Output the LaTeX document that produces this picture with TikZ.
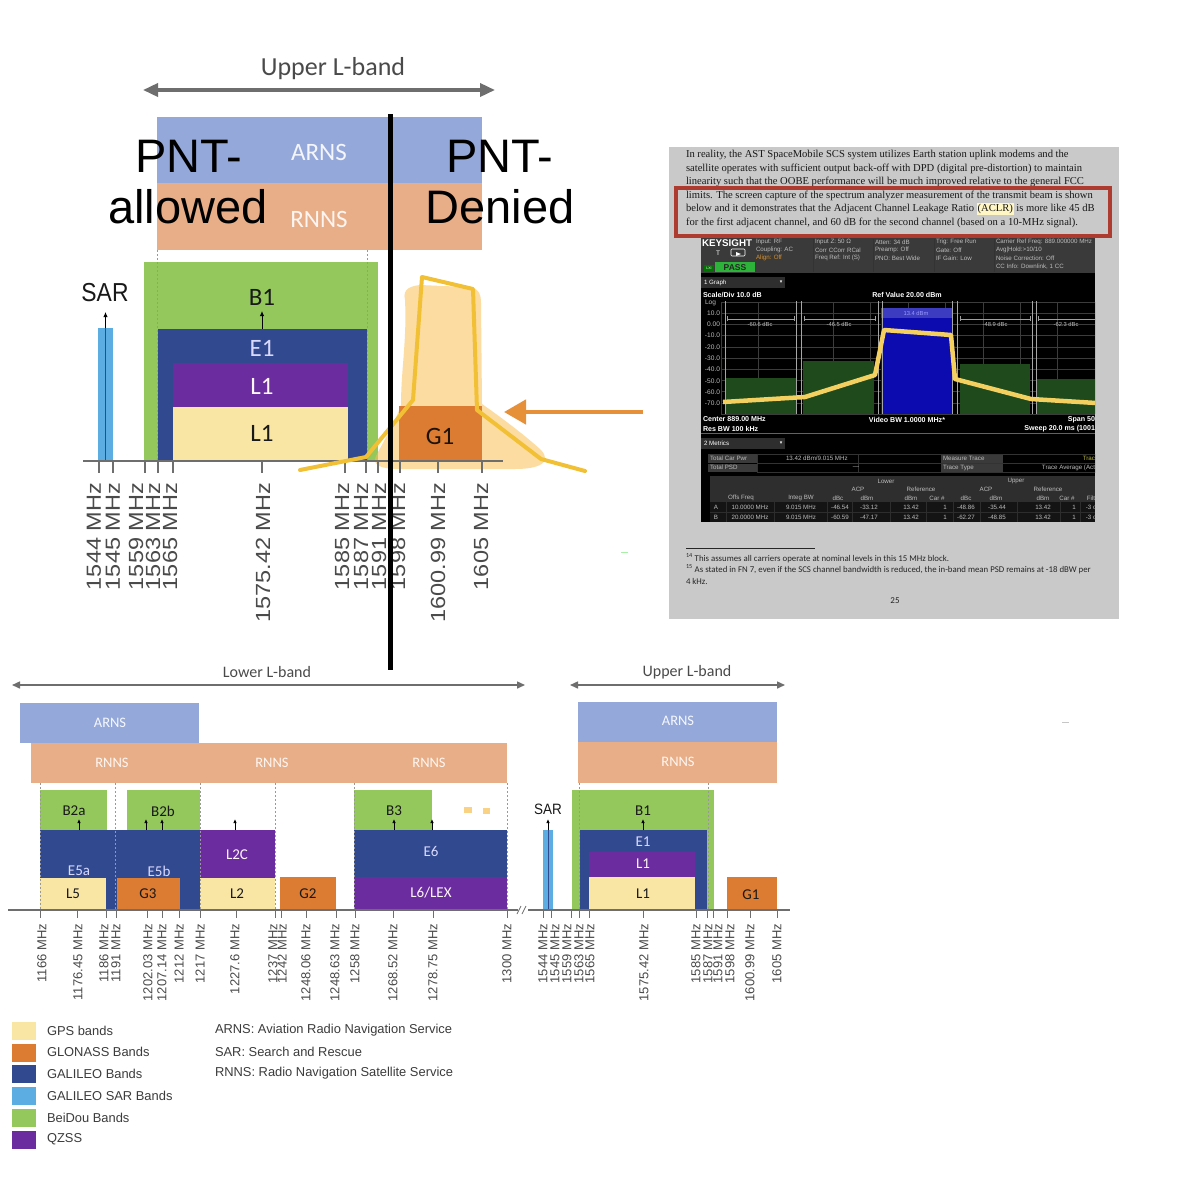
\documentclass[tikz,border=0pt]{standalone}
\usepackage{fontspec}
\setmainfont{Liberation Sans}
\newfontfamily\calfont{Carlito}
\newfontfamily\serfont{Liberation Serif}
\newfontfamily\djvfont{DejaVu Sans}
\usetikzlibrary{arrows.meta}
\definecolor{arnsC}{HTML}{94A8DA}
\definecolor{rnnsC}{HTML}{E8AE88}
\definecolor{bdC}{HTML}{94C75C}
\definecolor{galC}{HTML}{31498E}
\definecolor{qzC}{HTML}{6A2C9F}
\definecolor{gpsC}{HTML}{F9E6A4}
\definecolor{gloC}{HTML}{DC7B32}
\definecolor{sarC}{HTML}{5CAEE2}
\definecolor{axC}{HTML}{6E6E6E}
\definecolor{txC}{HTML}{4A4A4A}
\definecolor{glowC}{HTML}{FBC055}
\definecolor{traceC}{HTML}{F2C035}
\definecolor{arrC}{HTML}{E6913A}
\definecolor{pageC}{HTML}{C9C9C9}
\definecolor{redC}{HTML}{AE3B2F}
\definecolor{hlC}{HTML}{FFF6C4}
\definecolor{hdrC}{HTML}{3A3A3A}
\definecolor{ddC}{HTML}{2E2E2E}
\definecolor{scrT}{HTML}{BDBDBD}
\definecolor{grnBar}{HTML}{1E4A1C}
\definecolor{bluBar}{HTML}{0B0BB0}
\definecolor{ksTrace}{HTML}{F3D060}
\definecolor{passC}{HTML}{2DB33A}
\definecolor{alignC}{HTML}{D9902A}
\definecolor{olvC}{HTML}{B8B840}
\definecolor{gridC}{HTML}{3C3C3C}
\definecolor{legT}{HTML}{3C3C3C}
\newcommand{\fsz}[1]{\fontsize{#1}{#1}\selectfont}
\newcommand{\hlbox}[1]{{\setlength{\fboxsep}{0.8pt}\colorbox{hlC}{#1}}}
\begin{document}
\begin{tikzpicture}[x=1pt,y=-1pt,
  every node/.style={inner sep=0pt, outer sep=0pt},
  bandT/.style={font=\calfont\fsz{25}, text=black!90},
  bandB/.style={font=\calfont\fsz{15}, text=black!90},
  lightT/.style={text=white!85!blue},
  svcT/.style={font=\calfont\fsz{25}, text=white!90!arnsC},
  svcB/.style={font=\calfont\fsz{14.5}, text=white!92!arnsC},
  tickT/.style={draw=axC, line width=2pt},
  tickB/.style={draw=axC, line width=1pt},
  labT/.style={font=\fsz{23.5}, text=txC, rotate=90, anchor=east},
  labB/.style={font=\fsz{13}, text=txC, rotate=90, anchor=east},
  dashln/.style={draw=gray!80, line width=0.8pt, dash pattern=on 2pt off 2pt},
  uparrow/.style={-{Latex[length=5pt,width=4.5pt]}, line width=0.9pt, draw=black},
  bigtxt/.style={font=\fsz{47}, text=black, anchor=base},
  para/.style={font=\serfont\fsz{10.6}, text=black!90, anchor=west},
  hdr/.style={font=\fsz{6.2}, text=scrT, anchor=west},
  scr/.style={font=\fsz{6.2}, text=scrT},
  scrb/.style={font=\bfseries\fsz{7.1}, text=white},
  legend/.style={font=\fsz{12.9}, text=legT, anchor=west},
  foot/.style={font=\calfont\fsz{8.8}, text=black!85, anchor=west}
]
\useasboundingbox (0,0) rectangle (1200,1200);
\fill[white] (0,0) rectangle (1200,1200);

%% ================= TOP UPPER L-BAND (enlarged) =================
\node[font=\calfont\fsz{26}, text=txC] (tUpper) at (333,69) {Upper L-band};
\coordinate (tuL) at (143,90);
\coordinate (tuR) at (495,90);
\draw[{Triangle[length=15pt,width=13pt]}-{Triangle[length=15pt,width=13pt]}, line width=3.5pt, draw=axC] (tuL) -- (tuR);

\fill[arnsC] (157,117) rectangle (482,183);
\fill[rnnsC] (157,183) rectangle (482,250);
\node[svcT] (tARNS) at (319,152) {ARNS};
\node[svcT, text=white!88!rnnsC] (tRNNS) at (319,219) {RNNS};

\fill[bdC] (144,262) rectangle (378,461);
\fill[galC] (158,329) rectangle (367,461);
\fill[qzC] (173,363) rectangle (348,407);
\fill[gpsC] (173,407) rectangle (348,461);
\fill[sarC] (98,328) rectangle (113,461);
\draw[line width=1.6pt, draw=galC] (105.5,328) -- (105.5,461);

\node[bandT] (tB1) at (262,297) {B1};
\node[bandT, lightT] (tE1) at (262,348) {E1};
\node[bandT, text=white!85!pink] (tL1q) at (262,386) {L1};
\node[bandT] (tL1g) at (262,433) {L1};
\node[font=\fsz{26}, text=black!90] (tSAR) at (105,293) {\scalebox{0.88}[1]{SAR}};
\draw[uparrow] (262,329) -- (262,311);
\draw[uparrow] (105.5,328) -- (105.5,312);

\draw[dashln] (157.5,250) -- (157.5,461);
\draw[dashln] (367.5,250) -- (367.5,461);

% glow highlight
\fill[glowC, opacity=0.55]
  (405,300) .. controls (402,288) and (412,286) .. (420,285)
  -- (466,287) .. controls (478,287) and (481,293) .. (481,303)
  -- (482,404) .. controls (505,420) and (528,438) .. (541,450)
  .. controls (552,462) and (540,469) .. (515,469)
  -- (400,469) .. controls (380,469) and (372,465) .. (376,456)
  .. controls (382,444) and (394,425) .. (401,405)
  .. controls (401,370) and (407,340) .. cycle;
\fill[gloC] (399,406) rectangle (482,461);
\node[bandT, text=black!85!brown] (tG1) at (440,436) {G1};

% axis and ticks
\draw[draw=axC, line width=2.5pt] (83,461) -- (503,461);
\foreach \t in {99,113,145,158,173,262,345,366,378,400,438,482}
  \draw[tickT] (\t,461) -- (\t,473);
\foreach \x/\l [count=\i] in {94/1544,113/1545,136/1559,153/1563,170/1565,263/1575.42,342/1585,361/1587,379/1591,398/1598,438/1600.99,481/1605}
  \node[labT] (lt\i) at (\x,483) {\scalebox{1}[0.87]{\l\ MHz}};

% trace
\draw[traceC, line width=4pt, line join=round, line cap=round]
  (300,470) -- (366,457) -- (413,400) -- (422,277) -- (473,289) -- (477,410) -- (541,459) -- (585,471);

% orange arrow
\coordinate (oaS) at (643,412);
\coordinate (oaE) at (504,412);
\draw[arrC, line width=4.5pt, -{Triangle[length=22pt,width=24pt]}] (oaS) -- (oaE);

% PNT texts
\node[bigtxt] (pnt1) at (189,172) {PNT-};
\node[bigtxt] (pnt2) at (188,223) {allowed};
\node[bigtxt] (pnt3) at (500,172) {PNT-};
\node[bigtxt] (pnt4) at (500,223) {Denied};

% black divider
\draw[black, line width=5pt] (390.5,114) -- (390.5,670);

% tiny marks
\draw[gray!30!green!40, line width=1pt] (621,552) -- (628,552);
\draw[gray!45, line width=1pt] (1062,722) -- (1069,722);

%% ================= SCREENSHOT =================
\fill[pageC] (669,147) rectangle (1119,619);
\node[para] (p1) at (686,155) {In reality, the AST SpaceMobile SCS system utilizes Earth station uplink modems and the};
\node[para] (p2) at (686,168.5) {satellite operates with sufficient output back-off with DPD (digital pre-distortion) to maintain};
\node[para] (p3) at (686,182) {linearity such that the OOBE performance will be much improved relative to the general FCC};
\node[para] (p4) at (686,195.5) {limits. The screen capture of the spectrum analyzer measurement of the transmit beam is shown};
\node[para] (p5) at (686,209) {below and it demonstrates that the Adjacent Channel Leakage Ratio \hlbox{(ACLR)} is more like 45 dB};
\node[para] (p6) at (686,222.5) {for the first adjacent channel, and 60 dB for the second channel (based on a 10-MHz signal).};
\draw[redC, line width=3.5pt] (676,188) rectangle (1110,236);

\begin{scope}
\clip (701,238) rectangle (1095,522);
\fill[black] (701,238) rectangle (1095,522);
\fill[hdrC] (701,238) rectangle (1095,273);
\foreach \sx in {813,873,934,994} \draw[gray!40!black, line width=0.5pt] (\sx,239) -- (\sx,272);
\node[font=\bfseries\fsz{9.8}, text=white, anchor=west] (ksName) at (702,243.5) {KEYSIGHT};
\node[font=\fsz{6.5}, text=white] (ksT) at (718,253) {T};
\draw[white, line width=0.6pt, rounded corners=1pt] (731,249) rectangle (745,256);
\fill[white] (736,252) -- (741,254) -- (736,256) -- cycle;
\fill[green!45!black] (704,265) rectangle (714,272);
\node[font=\fsz{3.5}, text=white] (ksLxi) at (709,268.5) {LXI};
\fill[passC] (715,262) rectangle (755,272);
\node[font=\bfseries\fsz{8.5}, text=black!85] (ksPass) at (735,267.3) {PASS};
\foreach \cx/\ta/\tb/\tc [count=\i] in {
  756/{Input: RF}/{Coupling: AC}/{\textcolor{alignC}{Align: Off}},
  815/{Input Z: 50 Ω}/{Corr CCorr RCal}/{Freq Ref: Int (S)},
  875/{Atten: 34 dB}/{Preamp: Off}/{PNO: Best Wide},
  936/{Trig: Free Run}/{Gate: Off}/{IF Gain: Low},
  996/{Carrier Ref Freq: 889.000000 MHz}/{Avg|Hold:>10/10}/{Noise Correction: Off}}
{
  \node[hdr] (ha\i) at (\cx,242) {\ta};
  \node[hdr] (hb\i) at (\cx,250) {\tb};
  \node[hdr] (hc\i) at (\cx,258) {\tc};
}
\node[hdr] (hd5) at (996,266.5) {CC Info: Downlink, 1 CC};

% graph header
\fill[ddC] (701,277) rectangle (785,288);
\node[scr, anchor=west, text=white!85] (g1) at (704,282.5) {1 Graph};
\node[font=\djvfont\fsz{5}, text=white] (g1a) at (781,282.5) {▾};
\node[scrb, anchor=west] (sdiv) at (703,295) {Scale/Div 10.0 dB};
\node[scrb] (refv) at (907,295) {Ref Value 20.00 dBm};
\node[scr, anchor=west, font=\fsz{6.6}] (ylog) at (705,303) {Log};
\foreach \yy/\v [count=\i] in {313/10.0,324.5/0.00,335.5/-10.0,347/-20.0,358/-30.0,369.5/-40.0,381/-50.0,392/-60.0,403/-70.0}
  \node[scr, anchor=east, font=\fsz{6.6}] (yl\i) at (720,\yy) {\v};
% grid
\foreach \k in {0,...,10} {
  \draw[gridC, line width=0.5pt] (721+37.4*\k,302) -- (721+37.4*\k,414);
  \draw[gridC, line width=0.5pt] (721,302+11.2*\k) -- (1095,302+11.2*\k);
}
% bars
\fill[grnBar] (725,378) rectangle (796,414);
\fill[grnBar] (803,361) rectangle (874,414);
\fill[grnBar] (960,364) rectangle (1030,414);
\fill[grnBar] (1036,379) rectangle (1095,414);
\fill[bluBar] (881,308) rectangle (952,414);
\fill[bluBar!80!white] (881,308) rectangle (952,318);
\foreach \vx in {725,796,801,878,882,952,957,1032,1036}
  \draw[gray!70, line width=0.6pt] (\vx,301) -- (\vx,414);
% bracket lines
\foreach \xa/\xb in {727/794,804/875,960/1030,1038/1095}
  \draw[gray!75, line width=0.5pt] (\xa,316) -- (\xa,321) (\xa,319) -- (\xb,319) (\xb,316) -- (\xb,321);
\node[scr, font=\fsz{5.8}] (b1) at (760,324.5) {-60.6 dBc};
\node[scr, font=\fsz{5.8}] (b2) at (839,324.5) {-46.5 dBc};
\node[scr, font=\fsz{5.8}, text=blue!40!white] (b3) at (916,313.5) {13.4 dBm};
\node[scr, font=\fsz{5.8}] (b4) at (995,324.5) {-48.9 dBc};
\node[scr, font=\fsz{5.8}] (b5) at (1066,324.5) {-62.3 dBc};
\draw[ksTrace, line width=4.5pt, line join=round]
  (723,402) -- (805,397) -- (875,375) -- (884,330) -- (951,335) -- (955,379) -- (1031,399) -- (1096,403);
% footer
\node[scrb, anchor=west] (f1) at (703,419.5) {Center 889.00 MHz};
\node[scrb] (f2) at (907,419.5) {Video BW 1.0000 MHz*};
\node[scrb, anchor=east] (f3) at (1095,419.5) {Span 50};
\node[scrb, anchor=west] (f4) at (703,428.5) {Res BW 100 kHz};
\node[scrb, anchor=east] (f5) at (1095,428.5) {Sweep 20.0 ms (1001};
\draw[blue!30!gray, line width=0.7pt] (701,433) -- (1095,433);
% metrics
\fill[ddC] (701,438) rectangle (785,449);
\node[scr, anchor=west, text=white!85] (m1) at (704,443.5) {2 Metrics};
\node[font=\djvfont\fsz{5}, text=white] (m1a) at (781,443.5) {▾};
\fill[hdrC] (708,454) rectangle (757,462.5);
\fill[hdrC] (708,463.5) rectangle (757,472);
\fill[hdrC] (941,454) rectangle (1003,462.5);
\fill[hdrC] (941,463.5) rectangle (1003,472);
\draw[gray!40!black, line width=0.5pt] (757,454) rectangle (1095,472) (757,463) -- (1095,463) (858,454) -- (858,472);
\node[scr, anchor=west] (m2) at (710,458.3) {Total Car Pwr};
\node[scr, anchor=west] (m3) at (710,467.7) {Total PSD};
\node[scr, anchor=west] (m4) at (786,458.3) {13.42 dBm/9.015 MHz};
\node[scr] (m5) at (856,467.7) {---};
\node[scr, anchor=west] (m6) at (943,458.3) {Measure Trace};
\node[scr, anchor=west] (m7) at (943,467.7) {Trace Type};
\node[scr, anchor=east, text=olvC] (m8) at (1095,458.3) {Trac};
\node[scr, anchor=east] (m9) at (1095,467.7) {Trace Average (Act};
% table
\fill[hdrC!80!black] (710,476) rectangle (1095,502);
\fill[black!92] (710,502) rectangle (1095,522);
\foreach \cx in {726,774,827,852,890,926,953,980,1017,1060,1080}
  \draw[gray!35!black, line width=0.5pt] (\cx,502) -- (\cx,522);
\draw[gray!35!black, line width=0.5pt] (710,512) -- (1095,512);
\node[scr] (th1) at (886,481) {Lower};
\node[scr] (th2) at (1016,481) {Upper};
\foreach \cx/\tt [count=\i] in {858/ACP,921/Reference,986/ACP,1048/Reference}
  \node[scr] (tr\i) at (\cx,489.5) {\tt};
\foreach \cx/\tt [count=\i] in {741/Offs Freq,801/Integ BW,838/dBc,867/dBm,911/dBm,937/Car \#,966/dBc,996/dBm,1043/dBm,1067/Car \#,1091/Filt}
  \node[scr] (tc\i) at (\cx,498) {\tt};
\foreach \cx/\ta/\tb [count=\i] in {716/A/B,750/10.0000 MHz/20.0000 MHz,801/9.015 MHz/9.015 MHz,840/-46.54/-60.59,869/-33.12/-47.17,911/13.42/13.42,945/1/1,966/-48.86/-62.27,997/-35.44/-48.85,1043/13.42/13.42,1074/1/1,1091/-3 c/-3 c}
{
  \node[scr] (ra\i) at (\cx,507.3) {\ta};
  \node[scr] (rb\i) at (\cx,517.3) {\tb};
}
\end{scope}

% footnotes
\draw[black!85, line width=0.6pt] (686,548) -- (815,548);
\node[foot] (fn1) at (686,558) {\textsuperscript{14} This assumes all carriers operate at nominal levels in this 15 MHz block.};
\node[foot] (fn2) at (686,569) {\textsuperscript{15} As stated in FN 7, even if the SCS channel bandwidth is reduced, the in-band mean PSD remains at -18 dBW per};
\node[foot] (fn3) at (686,581) {4 kHz.};
\node[font=\calfont\fsz{9}, text=black!85] (pg) at (895,601) {25};

%% ================= BOTTOM CHART =================
\node[font=\calfont\fsz{16}, text=txC] (tLower) at (267,672) {Lower L-band};
\coordinate (blL) at (12,685);
\coordinate (blR) at (525,685);
\draw[{Triangle[length=8pt,width=7pt]}-{Triangle[length=8pt,width=7pt]}, line width=1.5pt, draw=axC] (blL) -- (blR);
\node[font=\calfont\fsz{16}, text=txC] (tUpper2) at (687,672) {Upper L-band};
\coordinate (buL) at (570,685);
\coordinate (buR) at (785,685);
\draw[{Triangle[length=8pt,width=7pt]}-{Triangle[length=8pt,width=7pt]}, line width=1.5pt, draw=axC] (buL) -- (buR);

% service bands
\fill[arnsC] (20,703) rectangle (199,743);
\fill[rnnsC] (31,743) rectangle (507,783);
\fill[arnsC] (578,702) rectangle (777,742);
\fill[rnnsC] (578,742) rectangle (777,783);
\node[svcB] (bARNS1) at (110,723) {ARNS};
\node[svcB, text=white!90!rnnsC] (bRNNS1) at (112,763) {RNNS};
\node[svcB, text=white!90!rnnsC] (bRNNS2) at (272,763) {RNNS};
\node[svcB, text=white!90!rnnsC] (bRNNS3) at (429,763) {RNNS};
\node[svcB] (bARNS2) at (678,721) {ARNS};
\node[svcB, text=white!90!rnnsC] (bRNNS4) at (678,762) {RNNS};

% lower bands
\fill[bdC] (40,790) rectangle (107,830);
\fill[bdC] (127,790) rectangle (200,830);
\fill[galC] (40,830) rectangle (200,910);
\fill[gpsC] (40,878) rectangle (106,910);
\fill[gloC] (117,878) rectangle (180,910);
\fill[qzC] (200,830) rectangle (275,878);
\fill[gpsC] (200,878) rectangle (275,910);
\fill[gloC] (280,877) rectangle (336,910);
\fill[bdC] (354,790) rectangle (432,830);
\fill[galC] (354,830) rectangle (507,877);
\fill[qzC] (354,877) rectangle (507,910);
\fill[gpsC!80!orange] (464,807) rectangle (472,813);
\fill[gpsC!80!orange] (483,808) rectangle (490,814);

% upper bands
\fill[bdC] (572,790) rectangle (714,910);
\fill[galC] (580,830) rectangle (707,910);
\fill[qzC] (589,852) rectangle (695,877);
\fill[gpsC] (589,877) rectangle (695,910);
\fill[gloC] (727,877) rectangle (777,910);
\fill[sarC] (543,830) rectangle (553,910);
\draw[line width=1pt, draw=galC] (548,830) -- (548,910);

% band labels
\node[bandB] (nB2a) at (74,811) {B2a};
\node[bandB] (nB2b) at (163,811) {B2b};
\node[bandB, lightT] (nE5a) at (79,871) {E5a};
\node[bandB, lightT] (nE5b) at (159,871) {E5b};
\node[bandB] (nL5) at (73,894) {L5};
\node[bandB] (nG3) at (148,894) {G3};
\node[bandB, text=white!88!pink] (nL2C) at (237,855) {L2C};
\node[bandB] (nL2) at (237,894) {L2};
\node[bandB] (nG2) at (308,894) {G2};
\node[bandB] (nB3) at (394,811) {B3};
\node[bandB, lightT] (nE6) at (431,851) {E6};
\node[bandB, text=white!88!pink] (nL6) at (431,893) {L6/LEX};
\node[bandB] (nB1) at (643,811) {B1};
\node[bandB, lightT] (nE1) at (643,842) {E1};
\node[bandB, text=white!88!pink] (nL1q) at (643,864) {L1};
\node[bandB] (nL1g) at (643,894) {L1};
\node[bandB] (nG1) at (751,895) {G1};
\node[font=\fsz{15}, text=black!90] (nSAR) at (548,809) {\scalebox{0.9}[1]{SAR}};

\foreach \ax/\ay in {79/830,146/830,162/830,235/830,394/830,432/830,643/830,548/830}
  \draw[line width=0.8pt, -{Latex[length=4pt,width=3.5pt]}] (\ax,\ay) -- (\ax,\ay-11);

\foreach \dx in {40.5,115.5,200,275,354,507,579,708}
  \draw[dashln, line width=0.6pt] (\dx,783) -- (\dx,910);

% axis
\draw[draw=axC, line width=1.2pt] (8,910) -- (518,910);
\draw[draw=axC, line width=1.2pt] (528,910) -- (790,910);
\draw[draw=axC, line width=0.8pt] (517,914) -- (521,906) (522,914) -- (526,906);
\foreach \t in {40,77,106,116,147,162,179,200,236,275,281,306,336,355,393,433,507,543,551,571,579,589,643,696,707,713,727,750,777}
  \draw[tickB] (\t,910) -- (\t,918);
\foreach \x/\l [count=\i] in {42/1166,78/1176.45,104/1186,116/1191,148/1202.03,162/1207.14,179/1212,200/1217,235/1227.6,273/1237,282/1242,306/1248.06,335/1248.63,355/1258,393/1268.52,433/1278.75,507/1300,543/1544,555/1545,567/1559,579/1563,590/1565,644/1575.42,696/1585,708/1587,718/1591,730/1598,750/1600.99,777/1605}
  \node[labB] (lb\i) at (\x,924) {\l\ MHz};

%% ================= LEGEND =================
\foreach \sy/\sc/\st [count=\i] in {1022/gpsC/GPS bands,1043.5/gloC/GLONASS Bands,1065/galC/GALILEO Bands,1087/sarC/GALILEO SAR Bands,1109/bdC/BeiDou Bands,1130.5/qzC/QZSS}
{
  \fill[\sc] (12,\sy) rectangle (36,\sy+18);
  \node[legend] (lg\i) at (47,\sy+8.5) {\st};
}
\node[legend] (lr1) at (215,1030) {ARNS: Aviation Radio Navigation Service};
\node[legend] (lr2) at (215,1052) {SAR: Search and Rescue};
\node[legend] (lr3) at (215,1073.5) {RNNS: Radio Navigation Satellite Service};
\end{tikzpicture}
\end{document}
